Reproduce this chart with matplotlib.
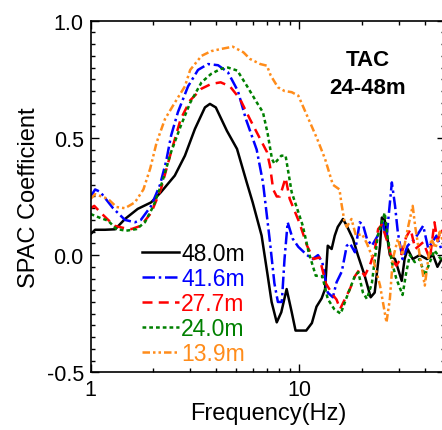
import numpy as np
import matplotlib
matplotlib.use("Agg")
import matplotlib.pyplot as plt
from matplotlib.ticker import FixedLocator, NullFormatter, LogLocator, MultipleLocator

plt.rcParams["font.family"] = ["Liberation Sans", "DejaVu Sans"]

# SPAC coefficient curves, TAC array (24-48m)
freq_48 = [1.00, 1.05, 1.17, 1.31, 1.46, 1.68, 1.95, 2.17, 2.53, 2.83, 3.16, 3.53, 3.73, 3.98,
           4.5, 5.03, 5.6, 5.98, 6.6, 7.06, 7.37, 7.8, 8.2, 8.7, 9.2, 9.6, 10.8, 11.5, 12.1,
           12.8, 13.3, 13.7, 14.3, 14.8, 15.3, 16.2, 16.9, 18.1, 19.1, 20.6, 22.0, 23.0, 24.4,
           24.9, 25.7, 27.2, 28.8, 31.0, 32.0, 33.1, 35.0, 37.8, 41.0, 43.8, 46.0, 48.0, 50.0]
spac_48 = [0.09, 0.108, 0.108, 0.11, 0.154, 0.197, 0.225, 0.268, 0.339, 0.424, 0.538, 0.63, 0.645,
           0.63, 0.53, 0.453, 0.31, 0.225, 0.083, -0.088, -0.2, -0.287, -0.244, -0.145, -0.243,
           -0.322, -0.322, -0.29, -0.22, -0.185, -0.145, 0.04, 0.026, 0.083, 0.12, 0.154, 0.125,
           0.069, 0.0, -0.088, -0.18, -0.16, 0.04, 0.16, 0.15, 0.0, -0.017, -0.11, -0.017, 0.026,
           -0.017, 0.0, -0.017, 0.0, -0.05, -0.02, 0.0]

freq_416 = [1.00, 1.05, 1.11, 1.28, 1.46, 1.63, 1.74, 1.95, 2.15, 2.30, 2.43, 2.62, 2.93, 3.27,
            3.65, 4.08, 4.55, 5.08, 5.55, 6.25, 6.7, 7.24, 7.6, 7.9, 8.25, 8.5, 8.8, 9.3, 9.9,
            10.9, 11.6, 12.3, 12.9, 13.7, 14.5, 15.1, 16.0, 16.9, 17.5, 18.5, 19.5, 20.2, 21.1,
            22.3, 23.8, 25.1, 26.2, 27.8, 28.8, 29.7, 31.3, 33.1, 35.8, 39.3, 41.5, 43.8, 45.5,
            48.0, 50.0]
spac_416 = [0.25, 0.28, 0.27, 0.2, 0.15, 0.14, 0.15, 0.21, 0.30, 0.40, 0.51, 0.61, 0.72, 0.79,
            0.815, 0.81, 0.78, 0.70, 0.58, 0.45, 0.31, 0.055, -0.12, -0.2, -0.2, -0.017, 0.14,
            0.07, 0.035, 0.0, -0.017, 0.0, -0.03, -0.16, -0.18, -0.116, -0.07, 0.04, 0.05, 0.012,
            0.14, 0.13, 0.07, 0.04, 0.083, 0.14, 0.07, 0.31, 0.21, 0.097, -0.017, 0.04, 0.069,
            0.125, 0.03, 0.06, 0.083, 0.026, 0.04]

freq_277 = [1.00, 1.04, 1.12, 1.2, 1.30, 1.45, 1.57, 1.74, 1.95, 2.17, 2.43, 2.7, 3.0, 3.4, 3.78,
            4.2, 4.65, 5.2, 5.8, 6.5, 7.0, 7.24, 7.5, 7.8, 8.08, 8.6, 9.0, 10.0, 10.9, 11.7, 12.5,
            13.4, 14.5, 15.1, 15.7, 16.3, 17.5, 18.5, 19.5, 20.6, 21.8, 23.0, 23.9, 24.9, 26.2,
            27.8, 29.2, 30.4, 32.5, 34.2, 36.0, 39.3, 42.3, 44.5, 46.0, 48.0, 50.0]
spac_277 = [0.20, 0.21, 0.18, 0.154, 0.125, 0.115, 0.111, 0.125, 0.18, 0.28, 0.44, 0.58, 0.66,
            0.71, 0.73, 0.737, 0.72, 0.666, 0.58, 0.495, 0.44, 0.38, 0.28, 0.25, 0.25, 0.33, 0.24,
            0.14, 0.04, -0.017, -0.01, -0.12, -0.17, -0.19, -0.23, -0.2, -0.145, -0.09, -0.06,
            -0.088, -0.045, 0.02, 0.111, 0.13, 0.069, -0.017, -0.045, -0.02, 0.075, 0.111, 0.026,
            0.055, -0.017, 0.14, 0.06, 0.111, 0.08]

freq_240 = [1.00, 1.10, 1.21, 1.33, 1.48, 1.66, 1.82, 2.0, 2.2, 2.43, 2.7, 3.0, 3.4, 3.78, 4.2,
            4.55, 5.05, 5.6, 6.25, 6.7, 7.05, 7.4, 7.6, 8.2, 8.6, 9.2, 9.9, 10.4, 11.1, 12.0, 12.9,
            13.7, 14.7, 15.8, 17.0, 18.5, 19.2, 20.2, 21.1, 22.3, 23.8, 25.7, 26.5, 27.8, 29.2,
            31.3, 32.5, 33.9, 35.8, 37.8, 40.0, 42.3, 44.5, 48.0, 50.0]
spac_240 = [0.175, 0.16, 0.147, 0.111, 0.104, 0.111, 0.14, 0.21, 0.31, 0.44, 0.55, 0.65, 0.737,
            0.773, 0.794, 0.80, 0.787, 0.723, 0.652, 0.609, 0.52, 0.41, 0.39, 0.424, 0.424, 0.268,
            0.183, 0.125, 0.012, -0.088, -0.09, -0.187, -0.23, -0.25, -0.173, -0.088, -0.073,
            -0.16, -0.187, -0.12, 0.083, 0.18, 0.08, -0.03, -0.1, -0.17, -0.08, 0.0, -0.03,
            -0.017, -0.088, -0.03, 0.02, -0.02, 0.0]

freq_139 = [1.00, 1.05, 1.21, 1.33, 1.46, 1.63, 1.79, 1.93, 2.07, 2.27, 2.53, 2.83, 3.0, 3.4,
            3.78, 4.2, 4.8, 5.4, 5.8, 6.5, 7.0, 7.3, 7.9, 8.5, 9.2, 9.9, 10.9, 12.2, 13.3, 14.5,
            15.6, 15.9, 16.5, 16.9, 17.8, 18.7, 20.0, 21.1, 22.6, 24.4, 26.2, 27.2, 28.1, 29.7,
            31.3, 33.1, 35.0, 36.0, 37.8, 40.0, 41.5, 43.0, 45.0, 47.2, 50.0]
spac_139 = [0.24, 0.26, 0.24, 0.205, 0.2, 0.225, 0.28, 0.37, 0.48, 0.58, 0.65, 0.72, 0.79, 0.85,
            0.87, 0.879, 0.889, 0.865, 0.837, 0.815, 0.808, 0.766, 0.716, 0.70, 0.695, 0.68,
            0.595, 0.495, 0.41, 0.30, 0.28, 0.225, 0.14, 0.12, 0.154, 0.083, 0.09, 0.05, -0.017,
            -0.13, -0.287, -0.187, -0.017, 0.069, 0.0, 0.111, 0.21, 0.12, 0.0, -0.13, -0.02, 0.07,
            0.03, 0.1, 0.03]

labels = ["48.0m", "41.6m", "27.7m", "24.0m", "13.9m"]
colors = ["black", "#0000ff", "#ff0000", "#008000", "#ff8c1a"]
dash_styles = [None, (5, 1.5, 1, 1.5), (4, 2.5), (1.5, 1.2), (3, 1.2, 1, 1.2, 1, 1.2)]

series = [(freq_48, spac_48), (freq_416, spac_416), (freq_277, spac_277),
          (freq_240, spac_240), (freq_139, spac_139)]

fig = plt.figure(figsize=(4.42, 4.31), dpi=100)
ax = fig.add_axes([0.2052, 0.1339, 0.8016, 0.8158])

for (f, s), lab, c, d in zip(series, labels, colors, dash_styles):
    line, = ax.plot(f, s, color=c, lw=1.8, label=lab)
    if d is not None:
        line.set_dashes(d)

ax.set_xscale("log")
ax.set_xlim(1, 50)
ax.set_ylim(-0.5, 1.0)

ax.xaxis.set_major_locator(FixedLocator([1, 10]))
ax.set_xticklabels(["1", "10"])
ax.xaxis.set_minor_locator(LogLocator(base=10, subs=np.arange(2, 10)))
ax.xaxis.set_minor_formatter(NullFormatter())
ax.yaxis.set_major_locator(MultipleLocator(0.5))
ax.yaxis.set_minor_locator(MultipleLocator(0.05))
ax.yaxis.set_major_formatter(plt.FuncFormatter(lambda v, p: f"{v:.1f}"))

ax.tick_params(which="both", direction="in", top=True, right=True, width=1, labelsize=15.5, pad=5)
ax.tick_params(which="major", length=6)
ax.tick_params(which="minor", length=3)
for sp in ax.spines.values():
    sp.set_linewidth(1.2)

ax.set_xlabel("Frequency(Hz)", fontsize=17, labelpad=1)
ax.set_ylabel("SPAC Coefficient", fontsize=17, labelpad=5)

ax.text(0.782, 0.85, "TAC\n24-48m", transform=ax.transAxes, ha="center", va="center",
        fontsize=16, fontweight="bold", linespacing=1.4)

ax.legend(loc="upper left", bbox_to_anchor=(0.145, 0.37), frameon=False, fontsize=16.5,
          handlelength=1.6, handletextpad=0.1, labelspacing=0.09, borderpad=0,
          borderaxespad=0, labelcolor="linecolor")

fig.savefig("out.png", dpi=100)
